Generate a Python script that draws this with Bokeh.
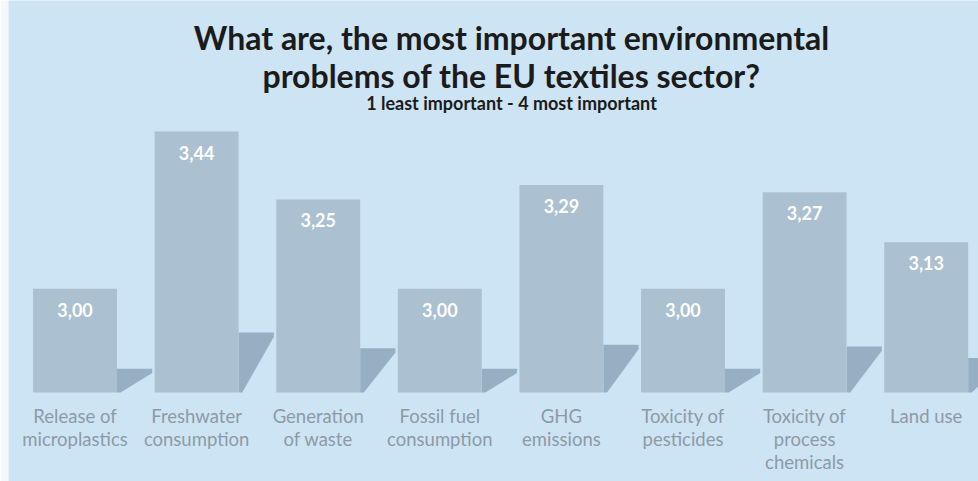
from bokeh.plotting import figure
from bokeh.models import Label, ColumnDataSource, Range1d
from bokeh.core.properties import value
from bokeh.embed import file_html
from bokeh.resources import INLINE
import numpy as np

categories = ["Release of\nmicroplastics", "Freshwater\nconsumption", "Generation\nof waste",
              "Fossil fuel\nconsumption", "GHG\nemissions", "Toxicity of\npesticides",
              "Toxicity of\nprocess\nchemicals", "Land use"]
scores = [3.00, 3.44, 3.25, 3.00, 3.29, 3.00, 3.27, 3.13]
score_labels = ["3,00", "3,44", "3,25", "3,00", "3,29", "3,00", "3,27", "3,13"]
title_lines = ["What are, the most important environmental", "problems of the EU textiles sector?"]
subtitle = "1 least important - 4 most important"

BASE = 2.709
BG = "#cde4f5"
BAR = "#abc0d0"
SHADOW = "#97afc2"

p = figure(width=978, height=481, output_backend="svg", toolbar_location=None,
           x_range=Range1d(-0.547, 7.43), y_range=Range1d(2.460, 3.807),
           min_border_left=8, min_border_right=0, min_border_top=0, min_border_bottom=0)
p.background_fill_color = BG
p.border_fill_color = "#f4f8fb"
p.outline_line_color = None
p.xaxis.visible = False
p.yaxis.visible = False
p.grid.visible = False

x = np.arange(len(categories))
vals = np.array(scores)
bw = 0.69
sw = 0.29

# shadows
xs, ys = [], []
for xi, v in zip(x, vals):
    xr = xi + bw / 2
    top = BASE + 0.23 * (v - BASE)
    xs.append([xr, xr, xr + sw, xr + sw, xr + 0.03])
    ys.append([BASE, top, top, top - 0.012, BASE])
p.patches(xs, ys, fill_color=SHADOW, line_color=None)

src = ColumnDataSource(dict(x=x, top=vals, lab=score_labels, cat=categories))
p.vbar(x="x", top="top", bottom=BASE, width=bw, source=src, fill_color=BAR, line_color=None)

p.text(x="x", y="top", text="lab", source=src, text_align="center", text_baseline="middle",
       y_offset=21, text_color="white", text_font=value("Lato"), text_font_style="bold",
       text_font_size="18px")

p.text(x="x", y=BASE, text="cat", source=src, text_align="center", text_baseline="top",
       y_offset=12, text_color="#8d9aa5", text_font=value("Lato"), text_font_size="18.5px",
       text_line_height=1.05)

for txt, yy, size in [(title_lines[0], 444, "32px"), (title_lines[1], 406, "32px"), (subtitle, 379, "18px")]:
    p.add_layout(Label(x=503, y=yy, x_units="screen", y_units="screen", text=txt,
                       text_align="center", text_baseline="middle", text_color="#1b1b1b",
                       text_font="Lato", text_font_style="bold", text_font_size=size))

open("out.html", "w").write(file_html(p, INLINE))
